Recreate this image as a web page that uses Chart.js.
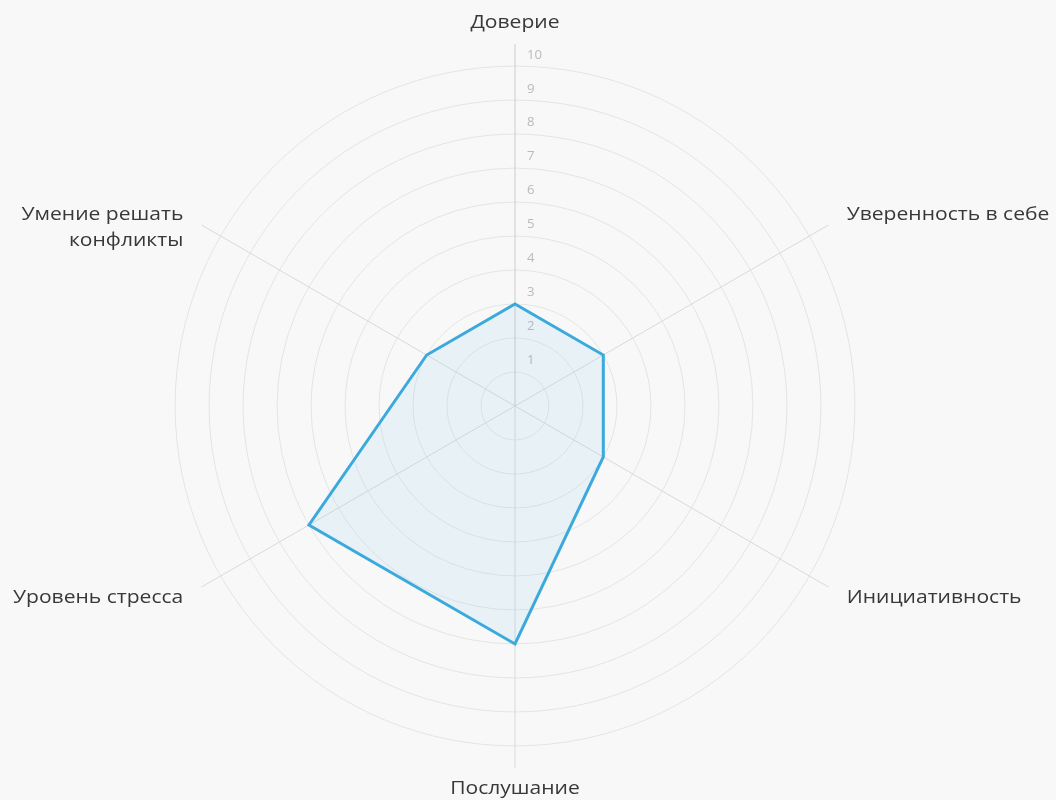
<!DOCTYPE html>
<html lang="ru">
<head>
<meta charset="utf-8">
<title>Радар</title>
<script src="https://cdn.jsdelivr.net/npm/chart.js@4/dist/chart.umd.min.js"></script>
<style>
  html, body { margin: 0; padding: 0; background: #f8f8f8; }
  .wrap { width: 1056px; height: 800px; position: relative; }
</style>
</head>
<body>
<div class="wrap"><canvas id="radar" width="1056" height="800"></canvas></div>
<script>
  const axisLabels = [
    "Доверие",
    "Уверенность в себе",
    "Инициативность",
    "Послушание",
    "Уровень стресса",
    ["Умение решать", "конфликты"],
  ];
  const scores = [3, 3, 3, 7, 7, 3];
  const scaleMax = 10.65; // angle lines run a bit past the 10 ring
  const tickStep = 1;

  // the original text is a bit stretched sideways
  function wideText(ctx, text, x, y, sx) {
    ctx.save();
    ctx.translate(x, y);
    ctx.scale(sx, 1);
    ctx.fillText(text, 0, 0);
    ctx.restore();
  }

  // point labels + tick numbers drawn by hand, so they sit like in the original
  const labelPlugin = {
    id: "labelPlugin",
    beforeDatasetsDraw(chart) {
      const scale = chart.scales.r;
      const ctx = chart.ctx;
      ctx.save();
      ctx.font = "12px 'Open Sans'";
      ctx.fillStyle = "#bababa";
      ctx.textAlign = "left";
      ctx.textBaseline = "middle";
      scale.ticks.forEach((t) => {
        if (t.value === 0) return;
        const d = scale.getDistanceFromCenterForValue(t.value);
        wideText(ctx, String(t.value), scale.xCenter + 12, scale.yCenter - d - 11, 1.1);
      });
      ctx.restore();
    },
    afterDraw(chart) {
      const scale = chart.scales.r;
      const ctx = chart.ctx;
      const n = chart.data.labels.length;
      ctx.save();
      ctx.font = "18px 'Open Sans'";
      ctx.fillStyle = "#383838";
      ctx.textBaseline = "middle";
      chart.data.labels.forEach((lbl, i) => {
        const p = scale.getPointPosition(i, scale.drawingArea + 21);
        const deg = (i * 360) / n;
        if (deg === 0 || deg === 180) ctx.textAlign = "center";
        else if (deg < 180) ctx.textAlign = "left";
        else ctx.textAlign = "right";
        const lines = Array.isArray(lbl) ? lbl : [lbl];
        lines.forEach((line, k) => {
          wideText(ctx, line, p.x, p.y + k * 26, 1.17);
        });
      });
      ctx.restore();
    },
  };

  new Chart(document.getElementById("radar"), {
    type: "radar",
    data: {
      labels: axisLabels,
      datasets: [
        {
          label: "Оценка",
          data: scores,
          borderColor: "#3ca9dd",
          backgroundColor: "rgba(90, 185, 235, 0.1)",
          borderWidth: 3,
          pointRadius: 0,
          pointHoverRadius: 0,
          tension: 0,
        },
      ],
    },
    options: {
      responsive: false,
      animation: false,
      layout: { padding: { top: 44, bottom: 32, left: 153, right: 179 } },
      plugins: {
        legend: { display: false },
        tooltip: { enabled: false },
      },
      scales: {
        r: {
          min: 0,
          max: scaleMax,
          bounds: "data",
          ticks: { stepSize: tickStep, includeBounds: false, display: false },
          grid: { circular: true, color: "#e4e4e4", lineWidth: 1 },
          angleLines: {
            color: (c) => (c.index === 0 ? "#cccccc" : "#d9d9d9"),
            lineWidth: 1,
          },
          pointLabels: { display: false },
        },
      },
    },
    plugins: [labelPlugin],
  });
</script>
</body>
</html>
